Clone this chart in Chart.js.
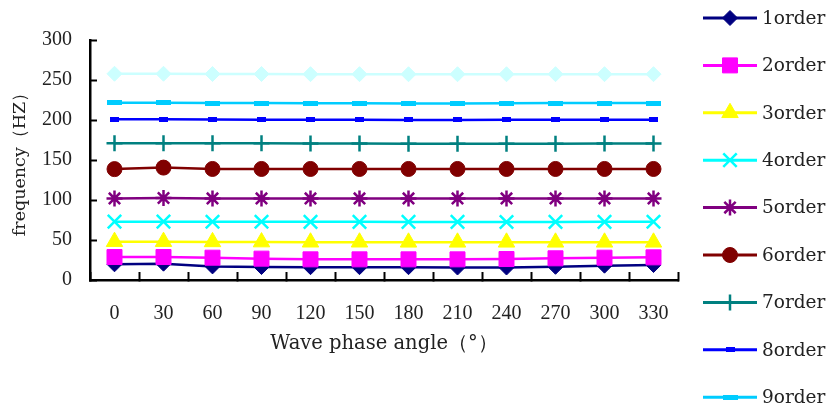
<!DOCTYPE html>
<html>
<head>
<meta charset="utf-8">
<script src="https://cdn.jsdelivr.net/npm/chart.js@4/dist/chart.umd.min.js"></script>
<style>
  html, body { margin: 0; padding: 0; background: #fff; overflow: hidden; }
  #wrap { width: 829px; height: 403px; }
</style>
</head>
<body>
<div id="wrap"><canvas id="freqChart"></canvas></div>
<script>
// phase angles on the x axis
const angles = ['0','30','60','90','120','150','180','210','240','270','300','330'];
const yTicks = [0, 50, 100, 150, 200, 250, 300];

// natural frequency of each order (Hz)
const order1  = [19.6, 20.4, 17.0, 16.2, 16.0, 16.0, 16.0, 15.6, 15.6, 16.5, 17.9, 18.7];
const order2  = [28.7, 28.7, 27.9, 26.7, 25.8, 25.8, 25.8, 25.8, 26.2, 27.1, 27.9, 28.3];
const order3  = [47.9, 47.9, 47.6, 47.4, 47.2, 47.2, 47.1, 47.1, 47.1, 47.1, 47.1, 47.1];
const order4  = [72.9, 72.9, 72.8, 72.8, 72.7, 72.7, 72.6, 72.6, 72.5, 72.6, 72.7, 72.8];
const order5  = [102.0, 102.5, 102.0, 102.0, 102.0, 102.0, 102.0, 102.0, 102.0, 102.0, 102.0, 102.0];
const order6  = [138.6, 140.5, 138.8, 138.8, 138.8, 138.8, 138.8, 138.8, 138.8, 138.8, 138.8, 138.8];
const order7  = [171.0, 171.0, 170.8, 170.8, 170.6, 170.5, 170.3, 170.3, 170.3, 170.3, 170.5, 170.5];
const order8  = [200.8, 200.8, 200.6, 200.4, 200.3, 200.2, 200.1, 200.1, 200.2, 200.2, 200.2, 200.2];
const order9  = [221.5, 221.5, 221.2, 221.2, 220.8, 220.8, 220.6, 220.6, 220.8, 221.2, 221.2, 221.2];
const order10 = [257.8, 257.8, 257.5, 257.5, 257.3, 257.3, 257.2, 257.2, 257.2, 257.3, 257.3, 257.3];

const seriesNames = ['1order','2order','3order','4order','5order','6order','7order','8order','9order','10order'];

const textFont = '"DejaVu Serif", serif';

// small flat rectangles used as markers for 8order / 9order
function rectMarker(w, h, color){
    const c = document.createElement('canvas');
    c.width = w; c.height = h;
    const g = c.getContext('2d');
    g.fillStyle = color;
    g.fillRect(0, 0, w, h);
    return c;
}

const styles = [
    { color: '#000080', point: 'rectRot',  r: 7.5, bw: 1 },
    { color: '#ff00ff', point: 'rect',     r: 10.6, bw: 1 },
    { color: '#ffff00', point: 'triangle', r: 9.5, bw: 1 },
    { color: '#00ffff', point: 'crossRot', r: 9.5, bw: 2.5 },
    { color: '#800080', point: 'star',     r: 8, bw: 2.5 },
    { color: '#800000', point: 'circle',   r: 7.5, bw: 1 },
    { color: '#008080', point: 'cross',    r: 8, bw: 2.5 },
    { color: '#0000ff', point: rectMarker(9, 5, '#0000ff'),  r: 5, bw: 1 },
    { color: '#00ccff', point: rectMarker(15, 5, '#00ccff'), r: 7, bw: 1 },
    { color: '#ccffff', point: 'rectRot',  r: 7.5, bw: 1 }
];

const allData = [order1, order2, order3, order4, order5, order6, order7, order8, order9, order10];

const datasets = allData.map((d, i) => ({
    label: seriesNames[i],
    data: d,
    borderColor: styles[i].color,
    backgroundColor: styles[i].color,
    borderWidth: 2.5,
    pointStyle: styles[i].point,
    pointRadius: styles[i].r,
    pointBorderWidth: styles[i].bw,
    pointBorderColor: styles[i].color,
    pointBackgroundColor: styles[i].color,
    tension: 0,
    order: 10 - i // later series on top
}));

// legend on the right side, drawn like the excel one (line + marker)
const sideLegend = {
    id: 'sideLegend',
    afterDraw(chart){
        const ctx = chart.ctx;
        ctx.save();
        chart.data.datasets.forEach((ds, i) => {
            const y = 18 + i * 47.4;
            ctx.strokeStyle = ds.borderColor;
            ctx.lineWidth = 3;
            ctx.beginPath();
            ctx.moveTo(703, y);
            ctx.lineTo(757, y);
            ctx.stroke();
            if (Chart.helpers && Chart.helpers.drawPoint) {
                ctx.fillStyle = ds.pointBackgroundColor;
                ctx.strokeStyle = ds.pointBorderColor;
                ctx.lineWidth = ds.pointBorderWidth;
                Chart.helpers.drawPoint(ctx, {
                    pointStyle: ds.pointStyle,
                    radius: ds.pointRadius,
                    rotation: 0,
                    borderWidth: ds.pointBorderWidth
                }, 730, y);
            }
            ctx.fillStyle = '#222';
            ctx.font = '18.5px ' + textFont;
            ctx.textBaseline = 'middle';
            ctx.textAlign = 'left';
            ctx.fillText(ds.label, 762, y + 1);
        });
        ctx.restore();
    }
};

const ctx = document.getElementById('freqChart').getContext('2d');
const freqChart = new Chart(ctx, {
    type: 'line',
    data: { labels: angles, datasets: datasets },
    options: {
        responsive: true,
        maintainAspectRatio: false,
        animation: false,
        layout: { padding: { top: 40, right: 151, bottom: 0, left: 0 } },
        plugins: {
            legend: { display: false },
            tooltip: { enabled: false }
        },
        scales: {
            x: {
                offset: true,
                grid: { offset: true, drawOnChartArea: false, tickLength: -8, tickWidth: 2, tickColor: '#000' },
                border: { color: '#000', width: 2.5 },
                ticks: {
                    color: '#222',
                    padding: 30,
                    maxRotation: 0,
                    font: { family: '"Liberation Serif", serif', size: 20 }
                },
                title: {
                    display: true,
                    text: 'Wave phase angle（°）',
                    color: '#222',
                    font: { family: textFont, size: 19.5 },
                    padding: { top: 0, bottom: 47 }
                },
                afterFit(scale){ scale.height = 123; }
            },
            y: {
                min: 0,
                max: 300,
                afterBuildTicks(scale){ scale.ticks = yTicks.map(v => ({ value: v })); },
                grid: { drawOnChartArea: false, tickLength: -7, tickWidth: 2, tickColor: '#000' },
                border: { color: '#000', width: 2.5 },
                ticks: {
                    color: '#222',
                    padding: 25,
                    font: { family: '"Liberation Serif", serif', size: 20 }
                },
                title: {
                    display: true,
                    text: 'frequency（HZ）',
                    color: '#222',
                    font: { family: textFont, size: 17.5 },
                    padding: { top: 10, bottom: 0 }
                },
                afterFit(scale){ scale.width = 90; }
            }
        }
    },
    plugins: [sideLegend]
});
</script>
</body>
</html>
